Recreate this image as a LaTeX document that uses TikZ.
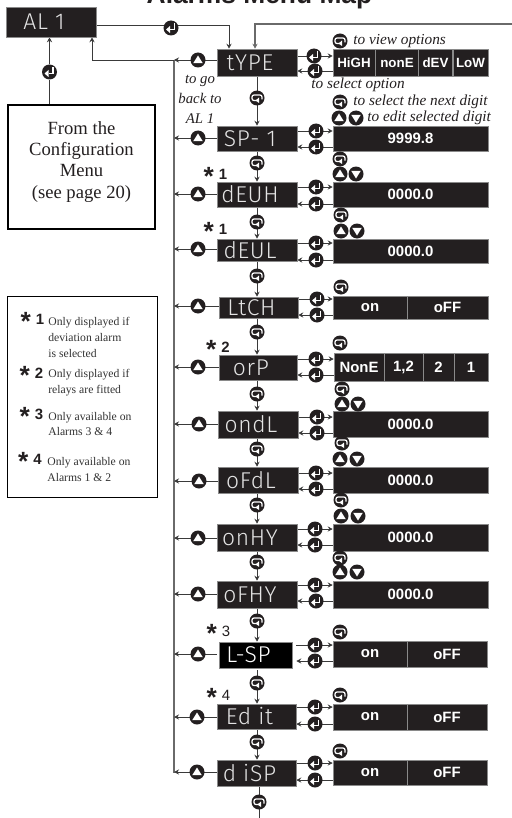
\documentclass[tikz,border=0pt]{standalone}
\usepackage{fontspec}
\setmainfont{Liberation Serif}
\setsansfont{Liberation Sans}
\newfontfamily\segfont[UprightFont=* Light, LetterSpace=3]{Fira Sans}
\usepackage{graphicx}
\usepackage{xcolor}
\usetikzlibrary{arrows.meta, backgrounds}
\definecolor{ink}{HTML}{231F20}
\definecolor{wire}{HTML}{3A3A3A}
\definecolor{busGray}{HTML}{6A6A6A}
\definecolor{edgeGray}{HTML}{8A8A8A}
\definecolor{segGray}{HTML}{E4E4E4}
\definecolor{noteGray}{HTML}{333333}
\newcommand{\segtxt}[1]{{\segfont #1}\hspace{8pt}}
\newcommand{\starmark}[2]{\raisebox{-3.2pt}{\fontsize{15}{15}\selectfont\bfseries *}\hspace{0.5pt}{#1 #2}}

\begin{document}
\begin{tikzpicture}[
  x=0.2mm, y=-0.2mm,
  font=\sffamily,
  >={Stealth[length=1mm, width=1mm]},
  every node/.style={align=center},
  menubox/.style={rectangle, fill=ink, draw=edgeGray, line width=0.3pt, inner sep=0pt,
                  minimum width=16mm, minimum height=5mm, text=segGray,
                  font=\fontsize{13}{13}\selectfont},
  valbox/.style={rectangle, fill=ink, draw=edgeGray, line width=0.3pt, inner sep=0pt,
                 minimum width=31mm, minimum height=5mm, text=white,
                 font=\sffamily\bfseries\fontsize{8.5}{10}\selectfont},
  keybtn/.style={circle, fill=ink, inner sep=0pt, minimum size=3mm},
  enterkey/.style={keybtn, path picture={
      \draw[white, line width=0.3mm, shift={(path picture bounding box.center)}]
        (3.5,-4.5) -- (3.5,1.5) -- (-1,1.5);
      \fill[white, shift={(path picture bounding box.center)}]
        (-5,1.5) -- (-1,-2) -- (-1,5) -- cycle;}},
  upkey/.style={keybtn, path picture={
      \fill[white, shift={(path picture bounding box.center)}]
        (0,-4.5) -- (4.8,3.2) -- (-4.8,3.2) -- cycle;}},
  downkey/.style={keybtn, path picture={
      \fill[white, shift={(path picture bounding box.center)}]
        (0,4.5) -- (4.8,-3.2) -- (-4.8,-3.2) -- cycle;}},
  scrollkey/.style={keybtn, path picture={
      \draw[white, line width=0.25mm, rounded corners=0.4mm, shift={(path picture bounding box.center)}]
        (5,1.5) -- (5,-3) -- (-5,-3) -- (-5,2.5) -- (0,2.5);
      \fill[white, shift={(path picture bounding box.center)}]
        (2,-0.5) -- (2,5) -- (-1.5,2.5) -- cycle;}},
  hint/.style={font=\rmfamily\itshape\fontsize{8.7}{11.4}\selectfont, text=ink, inner sep=0pt},
  starnote/.style={font=\sffamily\fontsize{8.5}{8.5}\selectfont, text=ink, inner sep=0pt},
  notetext/.style={font=\rmfamily\fontsize{6.65}{9.1}\selectfont, text=noteGray, align=left,
                   anchor=west, inner sep=0pt},
  arrow/.style={->, draw=wire, line width=0.5pt},
  wireline/.style={draw=wire, line width=0.5pt},
  bus/.style={draw=busGray, line width=0.7pt},
]

% ── Grid coordinates ───────────────────────────────────────────────
\def\colBus{174}     % left return line x
\def\colUp{198}      % up keys x
\def\colMenu{257}    % display column x
\def\colEnt{316}     % enter keys x
\def\colVal{410.5}   % value column x
\def\colKey{340}     % keys above the values x
\def\colKeyB{357}    % second key above the values x

\useasboundingbox (0,0) rectangle (512,818);

% ── Title and left boxes ───────────────────────────────────────────
\node[font=\sffamily\bfseries\fontsize{15}{15}\selectfont, anchor=base, inner sep=0pt, text=ink]
  (title) at (259.5,3.5) {Alarms Menu Map};

\node[menubox, minimum width=18mm, minimum height=6mm] (menuAl) at (51,22) {\segtxt{AL 1}};
\node[enterkey] (entAl) at (171,28) {};

\node[rectangle, draw=black, line width=0.9pt, minimum width=29.4mm, minimum height=24.8mm,
      inner sep=0pt, font=\rmfamily\fontsize{10.6}{12.2}\selectfont, text=ink]
  (config) at (81.5,167) {From the\\Configuration\\Menu\\(see page 20)\\[-4pt]\mbox{}};
\node[enterkey] (entConfig) at (49.5,72) {};

\coordinate (busTop)   at (\colBus,60);
\coordinate (busEnd)   at (\colBus,773);
\coordinate (feedIn)   at (512,24);
\coordinate (feedTurn) at (255,24);
\coordinate (backTurn) at (92,60);
\coordinate (alTurn)   at (229,25.5);
\coordinate (menuEnd)  at (\colMenu,818);

% ── Display column ─────────────────────────────────────────────────
\node[menubox, minimum height=5.4mm] (menuType) at (\colMenu,62.5)  {\segtxt{tYPE}};
\node[menubox]                       (menuSp)   at (\colMenu,138.5) {\segtxt{SP- 1}};
\node[menubox]                       (menuDeuh) at (\colMenu,194.5) {\segtxt{dEUH}};
\node[menubox, minimum height=4.4mm] (menuDeul) at (\colMenu,250)   {\segtxt{dEUL}};
\node[menubox, minimum width=15.8mm, minimum height=4.2mm] (menuLtch) at (258.5,307.5) {\segtxt{LtCH}};
\node[menubox, minimum width=15.6mm] (menuOrp)  at (258,367.5) {\segtxt{orP}};
\node[menubox, minimum height=5.4mm] (menuOndl) at (258,424.5) {\segtxt{ondL}};
\node[menubox, minimum height=5.2mm] (menuOfdl) at (258,480)   {\segtxt{oFdL}};
\node[menubox, minimum height=5.4mm] (menuOnhy) at (\colMenu,537.5) {\segtxt{onHY}};
\node[menubox, minimum height=5.4mm] (menuOfhy) at (\colMenu,594.5) {\segtxt{oFHY}};
\node[menubox, fill=black, text=white, minimum width=14.6mm, minimum height=5.2mm]
  (menuLsp) at (255.5,655) {\segtxt{L-SP}};
\node[menubox, minimum width=15.8mm] (menuEdit) at (256.5,716.5) {\segtxt{Ed it}};
\node[menubox, minimum width=15.8mm, minimum height=5.2mm] (menuDisp) at (256.5,773) {\segtxt{d iSP}};

% ── Value column ───────────────────────────────────────────────────
\node[valbox, minimum width=8.4mm, minimum height=5.4mm, font=\sffamily\bfseries\fontsize{7.6}{9}\selectfont] (optHigh) at (354,62.5) {HiGH};
\node[valbox, minimum width=8.6mm, minimum height=5.4mm, font=\sffamily\bfseries\fontsize{7.6}{9}\selectfont] (optNone) at (397,62.5) {nonE};
\node[valbox, minimum width=6.8mm, minimum height=5.4mm, font=\sffamily\bfseries\fontsize{7.6}{9}\selectfont] (optDev)  at (435.5,62.5) {dEV};
\node[valbox, minimum width=7mm,   minimum height=5.4mm, font=\sffamily\bfseries\fontsize{7.6}{9}\selectfont] (optLow)  at (470.5,62.5) {LoW};

\node[valbox] (valSp)   at (\colVal,138.5) {9999.8};
\node[valbox] (valDeuh) at (\colVal,194.5) {0000.0};
\node[valbox, minimum height=4.8mm] (valDeul) at (\colVal,251) {0000.0};

\node[valbox, minimum width=14.8mm, minimum height=4.6mm] (onLtch)  at (370,307.5)   {on};
\node[valbox, minimum width=16.2mm, minimum height=4.6mm] (offLtch) at (447.5,307.5) {oFF};

\node[valbox, minimum width=10mm,  minimum height=5.6mm] (optNoneB) at (359,367)   {NonE};
\node[valbox, minimum width=7.8mm, minimum height=5.6mm] (optBoth)  at (403.5,367) {1,2};
\node[valbox, minimum width=6.2mm, minimum height=5.6mm] (optTwo)   at (438.5,367) {2};
\node[valbox, minimum width=6.8mm, minimum height=5.6mm] (optOne)   at (471,367)   {1};

\node[valbox, minimum height=5.2mm] (valOndl) at (\colVal,424)   {0000.0};
\node[valbox, minimum height=5.2mm] (valOfdl) at (\colVal,480)   {0000.0};
\node[valbox, minimum height=5.4mm] (valOnhy) at (\colVal,537.5) {0000.0};
\node[valbox, minimum height=5.4mm] (valOfhy) at (\colVal,594.5) {0000.0};

\node[valbox, minimum width=14.8mm, minimum height=5.2mm] (onLsp)   at (370,654)   {on};
\node[valbox, minimum width=16mm,   minimum height=5.2mm] (offLsp)  at (447,654)   {oFF};
\node[valbox, minimum width=14.8mm, minimum height=5.2mm] (onEdit)  at (370,717)   {on};
\node[valbox, minimum width=16mm,   minimum height=5.2mm] (offEdit) at (447,717)   {oFF};
\node[valbox, minimum width=14.8mm] (onDisp)  at (370,772.5) {on};
\node[valbox, minimum width=16mm]   (offDisp) at (447,772.5) {oFF};

% ── Up keys, towards the return line ───────────────────────────────
\node[upkey] (upType) at (\colUp,60)  {};
\node[upkey] (upSp)   at (\colUp,138) {};
\node[upkey] (upDeuh) at (\colUp,194) {};
\node[upkey] (upDeul) at (\colUp,249) {};
\node[upkey] (upLtch) at (\colUp,306) {};
\node[upkey] (upOrp)  at (\colUp,367) {};
\node[upkey] (upOndl) at (199,424)    {};
\node[upkey] (upOfdl) at (199,481)    {};
\node[upkey] (upOnhy) at (\colUp,538) {};
\node[upkey] (upOfhy) at (\colUp,594) {};
\node[upkey] (upLsp)  at (\colUp,654) {};
\node[upkey] (upEdit) at (197,717)    {};
\node[upkey] (upDisp) at (197,772)    {};

% ── Enter keys, two per row ────────────────────────────────────────
\node[enterkey] (entTypeA) at (314,56)  {};  \node[enterkey] (entTypeB) at (315,71)  {};
\node[enterkey] (entSpA)   at (\colEnt,131) {}; \node[enterkey] (entSpB)   at (\colEnt,147) {};
\node[enterkey] (entDeuhA) at (\colEnt,187) {}; \node[enterkey] (entDeuhB) at (\colEnt,204) {};
\node[enterkey] (entDeulA) at (\colEnt,243) {}; \node[enterkey] (entDeulB) at (\colEnt,260) {};
\node[enterkey] (entLtchA) at (317,299) {};  \node[enterkey] (entLtchB) at (317,315) {};
\node[enterkey] (entOrpA)  at (\colEnt,359) {}; \node[enterkey] (entOrpB)  at (\colEnt,375) {};
\node[enterkey] (entOndlA) at (317,417) {};  \node[enterkey] (entOndlB) at (317,433) {};
\node[enterkey] (entOfdlA) at (\colEnt,473) {}; \node[enterkey] (entOfdlB) at (\colEnt,489) {};
\node[enterkey] (entOnhyA) at (315,529) {};  \node[enterkey] (entOnhyB) at (315,545) {};
\node[enterkey] (entOfhyA) at (315,585) {};  \node[enterkey] (entOfhyB) at (\colEnt,601) {};
\node[enterkey] (entLspA)  at (315,645) {};  \node[enterkey] (entLspB)  at (315,661) {};
\node[enterkey] (entEditA) at (315,707) {};  \node[enterkey] (entEditB) at (315,724) {};
\node[enterkey] (entDispA) at (315,763) {};  \node[enterkey] (entDispB) at (315,780) {};

% ── Scroll keys between the displays ───────────────────────────────
\node[scrollkey] (nextType) at (\colMenu,98)  {};
\node[scrollkey] (nextSp)   at (\colMenu,163) {};
\node[scrollkey] (nextDeuh) at (\colMenu,222) {};
\node[scrollkey] (nextDeul) at (\colMenu,276) {};
\node[scrollkey] (nextLtch) at (\colMenu,332) {};
\node[scrollkey] (nextOrp)  at (\colMenu,394) {};
\node[scrollkey] (nextOndl) at (\colMenu,449) {};
\node[scrollkey] (nextOfdl) at (\colMenu,505) {};
\node[scrollkey] (nextOnhy) at (\colMenu,562) {};
\node[scrollkey] (nextOfhy) at (\colMenu,621) {};
\node[scrollkey] (nextLsp)  at (\colMenu,683) {};
\node[scrollkey] (nextEdit) at (\colMenu,742) {};
\node[scrollkey] (nextDisp) at (259,802)      {};

% ── Keys above the values ──────────────────────────────────────────
\node[scrollkey] (keyType) at (\colKey,41)  {};
\node[scrollkey] (keySp)   at (\colKey,102) {};
\node[upkey]     (keySpU)  at (339,118)     {};
\node[downkey]   (keySpD)  at (356,118)     {};
\node[scrollkey] (keyDeuh) at (\colKey,159) {};
\node[upkey]     (keyDeuhU) at (\colKey,174) {};
\node[downkey]   (keyDeuhD) at (356,174)    {};
\node[scrollkey] (keyDeul) at (341,215)     {};
\node[upkey]     (keyDeulU) at (341,231)    {};
\node[downkey]   (keyDeulD) at (\colKeyB,231) {};
\node[scrollkey] (keyLtch) at (341,287)     {};
\node[scrollkey] (keyOrp)  at (\colKey,343) {};
\node[scrollkey] (keyOndl) at (342,389)     {};
\node[upkey]     (keyOndlU) at (342,404)    {};
\node[downkey]   (keyOndlD) at (358,404)    {};
\node[scrollkey] (keyOfdl) at (342,443)     {};
\node[upkey]     (keyOfdlU) at (\colKey,459) {};
\node[downkey]   (keyOfdlD) at (\colKeyB,459) {};
\node[scrollkey] (keyOnhy) at (341,500)     {};
\node[upkey]     (keyOnhyU) at (341,516)    {};
\node[downkey]   (keyOnhyD) at (358,516)    {};
\node[scrollkey] (keyOfhy) at (\colKey,558) {};
\node[upkey]     (keyOfhyU) at (\colKey,572) {};
\node[downkey]   (keyOfhyD) at (\colKeyB,572) {};
\node[scrollkey] (keyLsp)  at (\colKey,632) {};
\node[scrollkey] (keyEdit) at (\colKey,695) {};
\node[scrollkey] (keyDisp) at (\colKey,751) {};

% ── Hints ──────────────────────────────────────────────────────────
\node[hint, font=\rmfamily\itshape\fontsize{8.4}{11.4}\selectfont] (hintBack) at (200,99) {to go\\back to\\AL 1};
\node[hint, anchor=west] (hintView)   at (353,41)  {to view options};
\node[hint, anchor=west] (hintSelect) at (311,85)  {to select option};
\node[hint, anchor=west] (hintNext)   at (353,102) {to select the next digit};
\node[hint, anchor=west] (hintEdit)   at (367,118) {to edit selected digit};

% ── Star marks ─────────────────────────────────────────────────────
\node[starnote] (starDeuh) at (215.5,176) {\starmark{\bfseries}{1}};
\node[starnote] (starDeul) at (215.5,231) {\starmark{\bfseries}{1}};
\node[starnote] (starOrp)  at (218,349)   {\starmark{\bfseries}{2}};
\node[starnote] (starLsp)  at (218.5,633) {\starmark{\mdseries}{3}};
\node[starnote] (starEdit) at (218.5,697) {\starmark{\mdseries}{4}};

% ── Notes box ──────────────────────────────────────────────────────
\node[rectangle, draw=black, line width=0.4pt, minimum width=30mm, minimum height=40.2mm, inner sep=0pt]
  (notes) at (82,396.5) {};
\node[starnote] (keyA) at (32.5,321) {\starmark{\bfseries}{1}};
\node[starnote] (keyB) at (31.5,375) {\starmark{\bfseries}{2}};
\node[starnote] (keyC) at (31.5,416) {\starmark{\bfseries}{3}};
\node[starnote] (keyD) at (30,461)   {\starmark{\bfseries}{4}};
\node[notetext] (noteA) at (48,337) {Only displayed if\\deviation alarm\\is selected};
\node[notetext] (noteB) at (48,383) {Only displayed if\\relays are fitted};
\node[notetext] (noteC) at (48,424) {Only available on\\Alarms 3 \& 4};
\node[notetext] (noteD) at (47,469.5) {Only available on\\Alarms 1 \& 2};

% ── Connectors ─────────────────────────────────────────────────────
\begin{scope}[on background layer]
  \draw[bus] (busTop) -- (busEnd);
  \draw[arrow] (busTop) -- (backTurn) -- (menuAl.south -| backTurn);
  \draw[arrow] (menuAl.east |- alTurn) -- (alTurn) -- (menuType.north -| alTurn);
  \draw[wireline] (config.north -| entConfig) -- (entConfig);
  \draw[arrow] (entConfig) -- (menuAl.south -| entConfig);
  \draw[arrow, bus] (feedIn) -- (feedTurn) -- (menuType.north -| feedTurn);

  % return line, one per row
  \draw[arrow] (menuType.west |- upType) -- (busTop |- upType);
  \draw[arrow] (menuSp.west |- upSp)     -- (busTop |- upSp);
  \draw[arrow] (menuDeuh.west |- upDeuh) -- (busTop |- upDeuh);
  \draw[arrow] (menuDeul.west |- upDeul) -- (busTop |- upDeul);
  \draw[arrow] (menuLtch.west |- upLtch) -- (busTop |- upLtch);
  \draw[arrow] (menuOrp.west |- upOrp)   -- (busTop |- upOrp);
  \draw[arrow] (menuOndl.west |- upOndl) -- (busTop |- upOndl);
  \draw[arrow] (menuOfdl.west |- upOfdl) -- (busTop |- upOfdl);
  \draw[arrow] (menuOnhy.west |- upOnhy) -- (busTop |- upOnhy);
  \draw[arrow] (menuOfhy.west |- upOfhy) -- (busTop |- upOfhy);
  \draw[arrow, shorten <=0.4mm] (menuLsp.west |- upLsp) -- (busTop |- upLsp);
  \draw[arrow] (menuEdit.west |- upEdit) -- (busTop |- upEdit);
  \draw[arrow] (menuDisp.west |- upDisp) -- (busTop |- upDisp);

  % display to display
  \draw[arrow] (menuType) -- (menuSp.north -| menuType);
  \draw[arrow] (menuSp) -- (menuDeuh);
  \draw[arrow] (menuDeuh) -- (menuDeul);
  \draw[arrow] (menuDeul) -- (menuLtch.north -| menuDeul);
  \draw[arrow] (nextLtch |- menuLtch.south) -- (nextLtch |- menuOrp.north);
  \draw[arrow] (nextOrp |- menuOrp.south) -- (nextOrp |- menuOndl.north);
  \draw[arrow] (nextOndl |- menuOndl.south) -- (nextOndl |- menuOfdl.north);
  \draw[arrow] (nextOfdl |- menuOfdl.south) -- (nextOfdl |- menuOnhy.north);
  \draw[arrow] (menuOnhy) -- (menuOfhy);
  \draw[arrow] (nextOfhy |- menuOfhy.south) -- (nextOfhy |- menuLsp.north);
  \draw[arrow, shorten <=0.4mm] (nextLsp |- menuLsp.south) -- (nextLsp |- menuEdit.north);
  \draw[arrow] (nextEdit |- menuEdit.south) -- (nextEdit |- menuDisp.north);
  \draw[wireline] (nextDisp |- menuDisp.south) -- (menuEnd -| nextDisp);

  % display to value and back
  \draw[arrow] (menuType.east |- entTypeA) -- (optHigh.west |- entTypeA);
  \draw[arrow] (optHigh.west |- entTypeB) -- (menuType.east |- entTypeB);
  \draw[arrow] (menuSp.east |- entSpA) -- (valSp.west |- entSpA);
  \draw[arrow] (valSp.west |- entSpB) -- (menuSp.east |- entSpB);
  \draw[arrow] (menuDeuh.east |- entDeuhA) -- (valDeuh.west |- entDeuhA);
  \draw[arrow] (valDeuh.west |- entDeuhB) -- (menuDeuh.east |- entDeuhB);
  \draw[arrow] (menuDeul.east |- entDeulA) -- (valDeul.west |- entDeulA);
  \draw[arrow] (valDeul.west |- entDeulB) -- (menuDeul.east |- entDeulB);
  \draw[arrow] (menuLtch.east |- entLtchA) -- (onLtch.west |- entLtchA);
  \draw[arrow] (onLtch.west |- entLtchB) -- (menuLtch.east |- entLtchB);
  \draw[arrow] (menuOrp.east |- entOrpA) -- (optNoneB.west |- entOrpA);
  \draw[arrow] (optNoneB.west |- entOrpB) -- (menuOrp.east |- entOrpB);
  \draw[arrow] (menuOndl.east |- entOndlA) -- (valOndl.west |- entOndlA);
  \draw[arrow] (valOndl.west |- entOndlB) -- (menuOndl.east |- entOndlB);
  \draw[arrow] (menuOfdl.east |- entOfdlA) -- (valOfdl.west |- entOfdlA);
  \draw[arrow] (valOfdl.west |- entOfdlB) -- (menuOfdl.east |- entOfdlB);
  \draw[arrow] (menuOnhy.east |- entOnhyA) -- (valOnhy.west |- entOnhyA);
  \draw[arrow] (valOnhy.west |- entOnhyB) -- (menuOnhy.east |- entOnhyB);
  \draw[arrow] (menuOfhy.east |- entOfhyA) -- (valOfhy.west |- entOfhyA);
  \draw[arrow] (valOfhy.west |- entOfhyB) -- (menuOfhy.east |- entOfhyB);
  \draw[arrow, shorten <=0.8mm] (menuLsp.east |- entLspA) -- (onLsp.west |- entLspA);
  \draw[arrow, shorten >=0.8mm] (onLsp.west |- entLspB) -- (menuLsp.east |- entLspB);
  \draw[arrow] (menuEdit.east |- entEditA) -- (onEdit.west |- entEditA);
  \draw[arrow] (onEdit.west |- entEditB) -- (menuEdit.east |- entEditB);
  \draw[arrow] (menuDisp.east |- entDispA) -- (onDisp.west |- entDispA);
  \draw[arrow] (onDisp.west |- entDispB) -- (menuDisp.east |- entDispB);
\end{scope}

\end{tikzpicture}
\end{document}
